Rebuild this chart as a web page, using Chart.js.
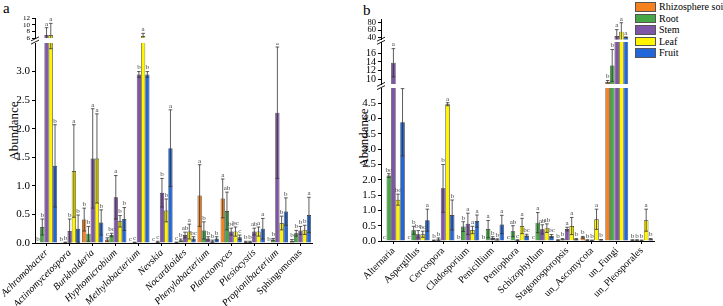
<!DOCTYPE html>
<html>
<head>
<meta charset="utf-8">
<script src="https://cdn.jsdelivr.net/npm/chart.js@4.4.1/dist/chart.umd.min.js"></script>
<style>
  body { margin: 0; width: 723px; height: 306px; background: #fff; position: relative; overflow: hidden;
         font-family: 'Liberation Serif', 'Times New Roman', serif; color: #000; }
  canvas { position: absolute; }
  .panel { position: absolute; font-size: 15px; line-height: 1; }
  .ytitle { position: absolute; font-size: 13px; white-space: nowrap; transform: translate(-50%, -50%) rotate(-90deg); }
  .legend { position: absolute; left: 635px; top: 1px; font-size: 10px; white-space: nowrap; }
  .legend div { height: 11.5px; display: flex; align-items: center; }
  .legend span.box { width: 21px; height: 9.5px; border: 0.8px solid #555; margin-right: 3px; box-sizing: border-box; flex: none; }
</style>
</head>
<body>
<div class="panel" style="left:3px; top:1px;">a</div>
<div class="panel" style="left:363px; top:3px;">b</div>
<div class="ytitle" style="left:14px; top:131px;">Abundance</div>
<div class="ytitle" style="left:364px; top:138px;">Abundance</div>
<div class="legend" id="legend"></div>
<script>
// series shared by both panels
const seriesNames = ['Rhizosphere soil', 'Root', 'Stem', 'Leaf', 'Fruit'];
const seriesColors = ['#F5821F', '#45A845', '#7F55A8', '#FFF500', '#2167D9'];

// panel a - bacterial genera
const genera = ['Achromobacter', 'Actinomycetospora', 'Burkholderia', 'Hyphomicrobium', 'Methylobacterium', 'Nevskia',
  'Nocardioides', 'Phenylobacterium', 'Planctomyces', 'Plesiocystis', 'Propionibacterium', 'Sphingomonas'];
const generaItalic = [true, true, true, true, true, true, true, true, true, true, true, false];

const aRhizo    = [0.005, 0.005, 0.41, 0.06, 0.005, 0.005, 0.01, 0.83, 0.78, 0.02, 0.005, 0.04];
const aRhizoErr = [0, 0, 0.2, 0.03, 0, 0, 0.005, 0.54, 0.34, 0.01, 0, 0.02];
const aRhizoSig = ['b', 'b', 'b', 'c', 'c', 'c', 'c', 'a', 'a', 'b', 'b', 'b'];
const aRoot     = [0.28, 0.01, 0.16, 0.14, 0.01, 0.02, 0.05, 0.22, 0.56, 0.02, 0.06, 0.17];
const aRootErr  = [0.14, 0.005, 0.13, 0.03, 0.005, 0.01, 0.02, 0.15, 0.33, 0.01, 0.02, 0.05];
const aRootSig  = ['b', 'b', 'b', 'bc', 'c', 'c', 'b', 'b', 'ab', 'b', 'b', 'b'];
const aStem     = [6.9, 0.21, 1.48, 0.8, 2.95, 0.88, 0.14, 0.08, 0.2, 0.2, 2.28, 0.22];
const aStemErr  = [2.2, 0.21, 0.87, 0.38, 0.05, 0.25, 0.05, 0.03, 0.06, 0.06, 1.15, 0.07];
const aStemSig  = ['a', 'b', 'a', 'a', 'b', 'b', 'ab', 'b', 'bc', 'ab', 'a', 'b'];
const aLeaf     = [6.9, 1.26, 1.48, 0.38, 6.6, 0.57, 0.2, 0.03, 0.2, 0.2, 0.35, 0.23];
const aLeafErr  = [3.5, 0.81, 0.78, 0.1, 0.8, 0.2, 0.13, 0.02, 0.08, 0.08, 0.12, 0.08];
const aLeafSig  = ['a', 'a', 'a', 'b', 'a', 'b', 'a', 'b', 'bc', 'a', 'b', 'b'];
const aFruit    = [1.35, 0.25, 0.36, 0.42, 2.95, 1.66, 0.08, 0.08, 0.1, 0.25, 0.55, 0.49];
const aFruitErr = [0.72, 0.24, 0.22, 0.2, 0.05, 0.67, 0.03, 0.03, 0.04, 0.18, 0.24, 0.31];
const aFruitSig = ['b', 'b', 'b', 'b', 'b', 'a', 'bc', 'b', 'c', 'a', 'b', 'a'];

const aTicksLow  = [0, 0.5, 1, 1.5, 2, 2.5, 3];
const aTicksHigh = [6, 8, 10, 12];

// panel b - fungal genera
const fungi = ['Alternaria', 'Aspergillus', 'Cercospora', 'Cladosporium', 'Penicillium', 'Peniophora',
  'Schizophyllum', 'Stagonosporopsis', 'un_Ascomycota', 'un_Fungi', 'un_Pleosporales'];

const bRhizo    = [0.01, 0.01, 0.02, 0.01, 0.01, 0.01, 0.01, 0.03, 0.12, 9.5, 0.03];
const bRhizoErr = [0, 0, 0.01, 0, 0, 0, 0, 0.01, 0.03, 0.3, 0.01];
const bRhizoSig = ['c', 'c', 'b', 'b', 'b', 'c', 'c', 'b', 'b', 'b', 'b'];
const bRoot     = [2.14, 0.35, 0.06, 0.47, 0.39, 0.32, 0.6, 0.06, 0.03, 13.2, 0.03];
const bRootErr  = [0.06, 0.13, 0.04, 0.16, 0.28, 0.18, 0.33, 0.02, 0.01, 3.6, 0.01];
const bRootSig  = ['bc', 'b', 'b', 'b', 'a', 'ab', 'a', 'b', 'b', 'b', 'b'];
const bStem     = [13.8, 0.22, 1.72, 0.56, 0.1, 0.03, 0.38, 0.39, 0.02, 44.5, 0.02];
const bStemErr  = [3.2, 0.12, 0.78, 0.35, 0.04, 0.01, 0.15, 0.06, 0.01, 17, 0.01];
const bStemSig  = ['a', 'bc', 'b', 'a', 'b', 'c', 'ab', 'a', 'b', 'a', 'b'];
const bLeaf     = [1.35, 0.22, 4.47, 0.36, 0.05, 0.49, 0.42, 0.49, 0.71, 56, 0.68];
const bLeafErr  = [0.18, 0.1, 0.05, 0.12, 0.02, 0.25, 0.14, 0.28, 0.33, 24, 0.36];
const bLeafSig  = ['bc', 'bc', 'a', 'a', 'b', 'a', 'ab', 'a', 'a', 'a', 'a'];
const bFruit    = [3.88, 0.68, 0.85, 0.65, 0.54, 0.18, 0.16, 0.06, 0.04, 41, 0.06];
const bFruitErr = [1.1, 0.36, 0.49, 0.2, 0.3, 0.04, 0.05, 0.02, 0.01, 1, 0.02];
const bFruitSig = ['b', 'a', 'b', 'a', 'a', 'bc', 'bc', 'b', 'b', 'a', 'b'];

const bTicksLow  = [0, 0.5, 1, 1.5, 2, 2.5, 3, 3.5, 4, 4.5];
const bTicksMid  = [10, 12, 14, 16];
const bTicksHigh = [40, 60, 80];

const FONT = 'Liberation Serif';
Chart.defaults.font.family = FONT;
Chart.defaults.color = '#000';

// error bars, significance letters and axis-break marks
const annotate = {
  id: 'annotate',
  afterDatasetsDraw(chart, args, opts) {
    const { ctx, chartArea: a } = chart;
    const y = chart.scales.y;
    ctx.save();
    ctx.beginPath();
    ctx.rect(a.left - 3, a.top, a.right - a.left + 6, a.bottom - a.top);
    ctx.clip();
    ctx.strokeStyle = '#333';
    ctx.lineWidth = 0.8;
    chart.data.datasets.forEach((ds, di) => {
      chart.getDatasetMeta(di).data.forEach((bar, i) => {
        const v = ds.data[i], e = ds.err[i];
        if (!e) return;
        const t = y.getPixelForValue(v + e), b = y.getPixelForValue(v - e);
        ctx.beginPath();
        ctx.moveTo(bar.x, t); ctx.lineTo(bar.x, b);
        ctx.moveTo(bar.x - 1.8, t); ctx.lineTo(bar.x + 1.8, t);
        ctx.moveTo(bar.x - 1.8, b); ctx.lineTo(bar.x + 1.8, b);
        ctx.stroke();
      });
    });
    ctx.restore();

    ctx.save();
    ctx.fillStyle = '#444';
    ctx.font = '7px ' + FONT;
    ctx.textAlign = 'center';
    ctx.textBaseline = 'bottom';
    chart.data.datasets.forEach((ds, di) => {
      chart.getDatasetMeta(di).data.forEach((bar, i) => {
        const cap = ds.data[i] + ds.err[i];
        if (cap < y.min || cap >= opts.upper) return;
        const py = Math.max(y.getPixelForValue(cap), a.top) - 0.5;
        ctx.fillText(ds.sig[i], bar.x, py);
      });
    });
    ctx.restore();
  },
  afterDraw(chart, args, opts) {
    if (!opts.gap) return;
    const { ctx, chartArea: a } = chart;
    const mid = a.bottom + opts.gap / 2;
    ctx.save();
    ctx.strokeStyle = '#000';
    ctx.lineWidth = 0.9;
    ctx.beginPath();
    for (const dy of [-1.6, 1.6]) {
      ctx.moveTo(a.left - 4, mid + dy + 2);
      ctx.lineTo(a.left + 4, mid + dy - 2);
    }
    ctx.stroke();
    ctx.restore();
  }
};

function buildDatasets(vals, errs, sigs) {
  return seriesNames.map((name, k) => ({
    label: name,
    data: vals[k],
    err: errs[k],
    sig: sigs[k],
    backgroundColor: seriesColors[k],
    borderColor: '#2b2b2b',
    borderWidth: 0.7,
    categoryPercentage: 0.92,
    barPercentage: 1,
    clip: 0
  }));
}

const aSets = [[aRhizo, aRoot, aStem, aLeaf, aFruit], [aRhizoErr, aRootErr, aStemErr, aLeafErr, aFruitErr],
  [aRhizoSig, aRootSig, aStemSig, aLeafSig, aFruitSig]];
const bSets = [[bRhizo, bRoot, bStem, bLeaf, bFruit], [bRhizoErr, bRootErr, bStemErr, bLeafErr, bFruitErr],
  [bRhizoSig, bRootSig, bStemSig, bLeafSig, bFruitSig]];

const segments = [
  { labels: genera, sets: aSets, min: 0, max: 3.5, ticks: aTicksLow, upper: 6, gap: 0,
    left: 0, top: 43, w: 317, h: 263, padTop: 0, padBottom: 0, showX: true, xHeight: 63,
    digits: 1, tickSize: 11, italic: generaItalic },
  { labels: genera, sets: aSets, min: 6, max: 12, ticks: aTicksHigh, upper: Infinity, gap: 5,
    left: 0, top: 10, w: 317, h: 35, padTop: 8, padBottom: 7, showX: false, digits: 0, tickSize: 7 },
  { labels: fungi, sets: bSets, min: 0, max: 5, ticks: bTicksLow, upper: 9, gap: 0,
    left: 346, top: 88, w: 313, h: 218, padTop: 0, padBottom: 0, showX: true, xHeight: 65,
    digits: 1, tickSize: 11, italic: null },
  { labels: fungi, sets: bSets, min: 9, max: 18.5, ticks: bTicksMid, upper: 35, gap: 4,
    left: 346, top: 34, w: 313, h: 56, padTop: 8, padBottom: 6, showX: false, digits: 0, tickSize: 10 },
  { labels: fungi, sets: bSets, min: 35, max: 90, ticks: bTicksHigh, upper: Infinity, gap: 2.5,
    left: 346, top: 11, w: 313, h: 34, padTop: 8, padBottom: 5.5, showX: false, digits: 0, tickSize: 8.5 }
];

function segmentChart(seg) {
  const canvas = document.createElement('canvas');
  canvas.width = seg.w;
  canvas.height = seg.h;
  canvas.style.left = seg.left + 'px';
  canvas.style.top = seg.top + 'px';
  document.body.appendChild(canvas);
  return new Chart(canvas.getContext('2d'), {
    type: 'bar',
    data: { labels: seg.labels, datasets: buildDatasets(seg.sets[0], seg.sets[1], seg.sets[2]) },
    options: {
      responsive: false,
      animation: false,
      layout: { padding: { top: seg.padTop, bottom: seg.padBottom, left: 0, right: 5 } },
      plugins: {
        legend: { display: false },
        tooltip: { enabled: false },
        annotate: { upper: seg.upper, gap: seg.gap }
      },
      scales: {
        x: {
          display: seg.showX,
          grid: { offset: false, drawOnChartArea: false, tickLength: 3, color: '#000' },
          border: { color: '#000', width: 1 },
          ticks: {
            autoSkip: false, minRotation: 45, maxRotation: 45, padding: 1,
            font: ctx => ({ family: FONT, size: 10,
              style: seg.italic && seg.italic[ctx.index] ? 'italic' : 'normal' })
          },
          afterFit: s => {
            if (seg.showX) s.height = seg.xHeight;
            s.paddingLeft = 0;
            s.paddingRight = 0;
          }
        },
        y: {
          min: seg.min,
          max: seg.max,
          afterBuildTicks: s => { s.ticks = seg.ticks.map(v => ({ value: v })); },
          grid: { drawOnChartArea: false, tickLength: 3, color: '#000' },
          border: { color: '#000', width: 1 },
          ticks: {
            autoSkip: false, padding: 2, font: { family: FONT, size: seg.tickSize },
            callback: v => seg.digits ? Number(v).toFixed(seg.digits) : String(v)
          },
          afterFit: s => {
            s.width = 35;
            s.paddingTop = 0;
            s.paddingBottom = 0;
          }
        }
      }
    },
    plugins: [annotate]
  });
}

segments.forEach(segmentChart);

// legend
const legend = document.getElementById('legend');
seriesNames.forEach((name, k) => {
  const row = document.createElement('div');
  const box = document.createElement('span');
  box.className = 'box';
  box.style.background = seriesColors[k];
  row.appendChild(box);
  row.appendChild(document.createTextNode(name));
  legend.appendChild(row);
});
</script>
</body>
</html>
